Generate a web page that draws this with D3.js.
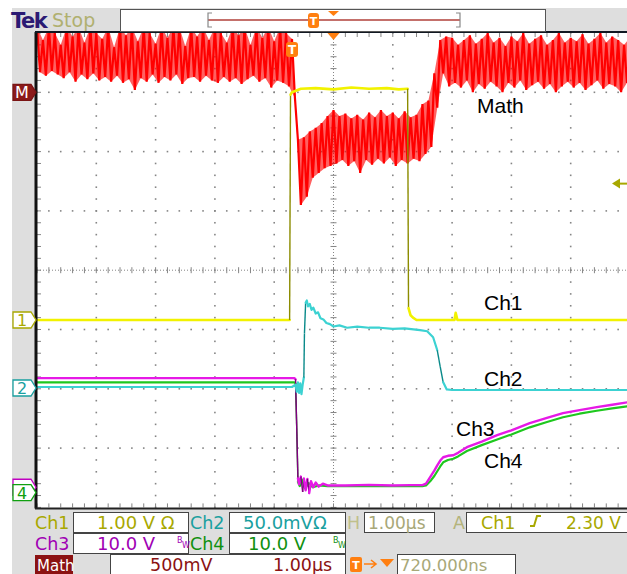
<!DOCTYPE html>
<html>
<head>
<meta charset="utf-8">
<script src="https://cdn.jsdelivr.net/npm/d3@7"></script>
<style>
  body { margin: 0; background: #fff; }
  svg { display: block; }
</style>
</head>
<body>
<script>
// ---- data (time in us from left edge of graticule) ----
const ch1T = [0, 4.26, 4.275, 4.30, 4.45, 4.7, 5.0, 5.3, 5.6, 5.9, 6.1, 6.25, 6.265, 6.30, 6.34, 6.40, 7.04, 7.06, 7.09, 10];
const ch1V = [0.0, 0.0, 3.80, 3.84, 3.90, 3.91, 3.89, 3.92, 3.90, 3.91, 3.89, 3.90, 0.20, 0.08, 0.04, 0.0, 0.0, 0.12, 0.0, 0.0];

const ch2T = [0, 4.30, 4.36, 4.38, 4.40, 4.42, 4.44, 4.46, 4.48, 4.50, 4.51, 4.53, 4.55, 4.57, 4.60, 4.63, 4.66, 4.70, 4.74, 4.78, 4.83, 4.88, 4.94, 5.0, 5.1, 5.23, 5.4, 5.6, 5.78, 6.0, 6.2, 6.46, 6.58, 6.68, 6.75, 6.80, 6.85, 6.91, 7.0, 10];
const ch2V = [0, 0, 2, -4, 4, -5, 3, -6, 2, 8, 45, 71, 73, 68, 70, 65, 67, 62, 63, 58, 57, 54, 53, 51, 52, 50, 51, 50, 50, 49, 49.5, 48, 47, 42, 31, 17, 4, -2, -2.5, -2.5];

const ch3T = [0, 4.34, 4.36, 4.38, 4.40, 4.42, 4.45, 4.48, 4.50, 4.53, 4.56, 4.59, 4.62, 4.66, 4.70, 4.75, 4.82, 4.9, 5.2, 5.6, 6.0, 6.3, 6.50, 6.56, 6.63, 6.70, 6.75, 6.80, 6.85, 6.93, 7.02, 7.10, 7.25, 7.5, 7.76, 8.0, 8.31, 8.6, 8.87, 9.15, 9.44, 9.7, 10];
const ch3V = [18.4, 18.4, 18.2, 10.0, 1.5, 0.5, 1.8, -0.8, 1.5, -0.5, 1.4, -1.0, 1.0, 0.0, 0.8, 0.1, 0.6, 0.3, 0.3, 0.4, 0.3, 0.35, 0.35, 0.6, 1.7, 2.8, 3.7, 4.5, 5.06, 5.3, 5.4, 5.8, 6.75, 7.7, 8.77, 9.6, 10.8, 11.7, 12.5, 13.0, 13.5, 13.9, 14.4];

const ch4T = [0, 4.34, 4.36, 4.38, 4.40, 4.43, 4.47, 4.52, 4.58, 4.65, 4.75, 4.9, 5.5, 6.0, 6.50, 6.56, 6.63, 6.70, 6.75, 6.80, 6.85, 6.93, 7.02, 7.10, 7.25, 7.5, 7.76, 8.0, 8.31, 8.6, 8.87, 9.15, 9.44, 9.7, 10];
const ch4V = [18.6, 18.6, 18.4, 11.0, 1.8, 1.1, 2.2, 0.7, 1.6, 0.9, 1.2, 1.1, 1.1, 1.1, 1.1, 1.2, 1.9, 2.8, 3.6, 4.4, 5.1, 5.5, 5.7, 6.1, 7.0, 8.0, 8.95, 9.8, 11.0, 11.9, 12.7, 13.3, 13.8, 14.2, 14.6];

// math trace: top / bottom of each ripple spike, one pair every 0.1 us
const mathStep = 0.1;
const mathHi = [0.55, 0.44, 0.55, 0.50, 0.40, 0.55, 0.47, 0.55, 0.42, 0.55, 0.50, 0.45, 0.55, 0.38, 0.55, 0.48, 0.55, 0.43, 0.55, 0.50, 0.41, 0.55, 0.46, 0.55, 0.55, 0.39, 0.55, 0.47, 0.55, 0.44, 0.55, 0.50, 0.42, 0.55, 0.48, 0.55, 0.40, 0.55, 0.46, 0.55, 0.43, 0.55,
  0.50, 0.45,
  -0.40, -0.38, -0.33, -0.30, -0.26, -0.20, -0.15, -0.20, -0.18, -0.22, -0.19, -0.23, -0.17, -0.21, -0.15, -0.20, -0.17, -0.22, -0.16, -0.21, -0.19, -0.10,
  -0.07, 0.16, 0.44, 0.47,
  0.46, 0.40, 0.44, 0.48, 0.41, 0.45, 0.50, 0.42, 0.46, 0.39, 0.47, 0.43, 0.50, 0.41, 0.45, 0.48, 0.40, 0.44, 0.50, 0.42, 0.46, 0.43, 0.49, 0.41, 0.45, 0.50, 0.42, 0.47, 0.44, 0.40, 0.46];
const mathLo = [0.17, 0.14, 0.18, 0.15, 0.12, 0.17, 0.09, 0.15, 0.11, 0.16, 0.10, 0.13, 0.09, 0.14, 0.08, 0.11, 0.02, 0.12, 0.09, 0.15, 0.08, 0.13, 0.10, 0.15, 0.07, 0.12, 0.13, 0.09, 0.14, 0.10, 0.08, 0.13, 0.09, 0.12, 0.07, 0.11, 0.14, 0.09, 0.12, 0.04, 0.10, 0.08,
  0.05, -0.05,
  -0.95, -0.88, -0.72, -0.68, -0.64, -0.62, -0.60, -0.57, -0.62, -0.58, -0.68, -0.57, -0.61, -0.56, -0.60, -0.55, -0.62, -0.57, -0.60, -0.56, -0.58, -0.52,
  -0.46, -0.13, 0.16, 0.05,
  0.08, 0.04, 0.10, 0.00, 0.07, 0.03, 0.09, 0.05, 0.00, 0.08, 0.04, 0.10, 0.02, 0.06, 0.09, 0.03, 0.07, 0.00, 0.05, 0.09, 0.04, 0.08, 0.02, 0.06, 0.10, 0.03, 0.07, 0.05, 0.00, 0.08, 0.06];

// ---- layout ----
const w = 627;
const h = 574;
const plotL = 37;
const plotT = 33;
const div = 59.3;
const plotR = plotL + 10 * div;
const plotB = plotT + 8 * div;

const svg = d3.select("body").append("svg").attr("width", w).attr("height", h);

const x = d3.scaleLinear().domain([0, 10]).range([plotL, plotR]);
const yDiv = d3.scaleLinear().domain([4, -4]).range([plotT, plotB]);

// channel vertical settings (position in divisions, units per division)
const ch1 = { pos: -0.84, vdiv: 1 };
const ch2 = { pos: -1.97, vdiv: 50 };
const ch3 = { pos: -3.66, vdiv: 10 };
const ch4 = { pos: -3.75, vdiv: 10 };
const mth = { pos: 3.0, vdiv: 0.5 };
const yOf = (c) => (v) => yDiv(c.pos + v / c.vdiv);

// ---- frame / grey panels ----
const grey = "#dedede";
svg.append("rect").attr("x", 12).attr("y", 8).attr("width", w - 12).attr("height", plotT - 8).attr("fill", grey);
svg.append("rect").attr("x", 12).attr("y", 8).attr("width", plotL - 12).attr("height", h - 8).attr("fill", grey);
svg.append("rect").attr("x", 12).attr("y", plotB + 1).attr("width", w - 12).attr("height", h - plotB).attr("fill", grey);
svg.append("rect").attr("x", plotL).attr("y", plotT).attr("width", w - plotL).attr("height", plotB - plotT).attr("fill", "#fff");

// ---- graticule ----
const grid = svg.append("g");
const minor = d3.range(0, 50.01, 1).map((d) => d / 5);
const minorY = d3.range(0, 40.01, 1).map((d) => d / 5 - 4);
const dotCol = "#858585";

[1, 2, 3, 4, 6, 7, 8, 9].forEach((k) => {
  minorY.forEach((v) => {
    grid.append("rect").attr("x", x(k) - 0.8).attr("y", yDiv(v) - 0.8).attr("width", 1.6).attr("height", 1.6).attr("fill", dotCol);
  });
});
[-3, -2, -1, 1, 2, 3].forEach((k) => {
  minor.forEach((t) => {
    grid.append("rect").attr("x", x(t) - 0.8).attr("y", yDiv(k) - 0.8).attr("width", 1.6).attr("height", 1.6).attr("fill", dotCol);
  });
});
// centre lines with ticks
grid.append("line").attr("x1", x(5)).attr("x2", x(5)).attr("y1", plotT).attr("y2", plotB)
  .attr("stroke", dotCol).attr("stroke-width", 1).attr("stroke-dasharray", "1,2");
grid.append("line").attr("x1", plotL).attr("x2", plotR).attr("y1", yDiv(0)).attr("y2", yDiv(0))
  .attr("stroke", dotCol).attr("stroke-width", 1).attr("stroke-dasharray", "1,2");
minor.forEach((t) => {
  grid.append("line").attr("x1", x(t)).attr("x2", x(t)).attr("y1", yDiv(0) - 3).attr("y2", yDiv(0) + 3).attr("stroke", dotCol);
  grid.append("line").attr("x1", x(t)).attr("x2", x(t)).attr("y1", plotT).attr("y2", plotT + 4).attr("stroke", dotCol);
  grid.append("line").attr("x1", x(t)).attr("x2", x(t)).attr("y1", plotB - 4).attr("y2", plotB).attr("stroke", dotCol);
});
minorY.forEach((v) => {
  grid.append("line").attr("x1", x(5) - 3).attr("x2", x(5) + 3).attr("y1", yDiv(v)).attr("y2", yDiv(v)).attr("stroke", dotCol);
  grid.append("line").attr("x1", plotL).attr("x2", plotL + 4).attr("y1", yDiv(v)).attr("y2", yDiv(v)).attr("stroke", dotCol);
});

// ---- traces ----
svg.append("clipPath").attr("id", "plotClip").append("rect")
  .attr("x", plotL).attr("y", plotT).attr("width", w - plotL).attr("height", plotB - plotT);
const traces = svg.append("g").attr("clip-path", "url(#plotClip)");

const drawTrace = (T, V, yf, color, steepColor, width) => {
  const pts = T.map((t, i) => [x(t), yf(V[i])]);
  const g = traces.append("g");
  let run = [pts[0]];
  const flush = () => {
    if (run.length > 1) {
      g.append("path").attr("d", d3.line()(run)).attr("fill", "none")
        .attr("stroke", color).attr("stroke-width", width)
        .attr("stroke-linejoin", "round").attr("stroke-linecap", "round");
    }
  };
  for (let i = 1; i < pts.length; i++) {
    const a = pts[i - 1];
    const b = pts[i];
    const dy = Math.abs(b[1] - a[1]);
    const steep = dy > 12 && dy > 5 * Math.abs(b[0] - a[0]);
    if (steep) {
      flush();
      g.append("line").attr("x1", a[0]).attr("y1", a[1]).attr("x2", b[0]).attr("y2", b[1])
        .attr("stroke", steepColor).attr("stroke-width", 1.4);
      run = [b];
    } else {
      run.push(b);
    }
  }
  flush();
};

drawTrace(ch4T, ch4V, yOf(ch4), "#1ec81e", "#0a7a0a", 2.2);
drawTrace(ch3T, ch3V, yOf(ch3), "#e619e6", "#800080", 2.4);
drawTrace(ch2T, ch2V, yOf(ch2), "#3cd2d2", "#0a8a8a", 2.2);

// math: band between spike tops and bottoms, plus the zig-zag of the spikes
const yM = yOf(mth);
const half = mathStep / 2;
const mathIdx = d3.range(mathHi.length);
traces.append("path")
  .attr("d", d3.area()
    .x0((i) => x(i * mathStep))
    .x1((i) => x(i * mathStep + half))
    .y0((i) => yM(mathHi[i]))
    .y1((i) => yM(mathLo[i]))(mathIdx))
  .attr("fill", "#ff0000").attr("fill-opacity", 0.62);
const mathPts = [];
mathHi.forEach((v, i) => {
  mathPts.push([x(i * mathStep), yM(v)]);
  mathPts.push([x(i * mathStep + half), yM(mathLo[i])]);
});
traces.append("path").attr("d", d3.line()(mathPts)).attr("fill", "none")
  .attr("stroke", "#ff0000").attr("stroke-width", 2.2).attr("stroke-linejoin", "miter");

drawTrace(ch1T, ch1V, yOf(ch1), "#f2f200", "#8c8c00", 2.6);

// ---- frame lines ----
svg.append("line").attr("x1", plotL - 1).attr("x2", plotL - 1).attr("y1", plotT - 1).attr("y2", plotB + 1).attr("stroke", "#111").attr("stroke-width", 3);
svg.append("line").attr("x1", plotL - 2).attr("x2", w).attr("y1", plotT - 1).attr("y2", plotT - 1).attr("stroke", "#111822").attr("stroke-width", 2);
svg.append("line").attr("x1", plotL - 2).attr("x2", w).attr("y1", plotB + 1).attr("y2", plotB + 1).attr("stroke", "#222").attr("stroke-width", 2);

// ---- trace labels ----
const labels = [
  { text: "Math", x: 477, y: 113 },
  { text: "Ch1", x: 484, y: 310 },
  { text: "Ch2", x: 484, y: 386 },
  { text: "Ch3", x: 456, y: 436 },
  { text: "Ch4", x: 484, y: 468 },
];
svg.append("g").selectAll("text").data(labels).enter().append("text")
  .attr("x", (d) => d.x).attr("y", (d) => d.y).text((d) => d.text)
  .attr("font-family", "Liberation Sans, Arial, sans-serif").attr("font-size", 21).attr("fill", "#000");

// ---- channel markers on left ----
const marker = (yy, label, stroke, fill, txt) => {
  const g = svg.append("g");
  g.append("path").attr("d", `M13,${yy - 8}H31L36,${yy}L31,${yy + 8}H13Z`)
    .attr("fill", fill).attr("stroke", stroke).attr("stroke-width", 1.3);
  g.append("text").attr("x", 22).attr("y", yy + 6).attr("text-anchor", "middle").text(label)
    .attr("font-family", "DejaVu Sans, sans-serif").attr("font-size", 16).attr("fill", txt);
};
marker(yDiv(mth.pos), "M", "#7a1414", "#8b1a1a", "#fff");
marker(yDiv(ch1.pos), "1", "#a8a800", "#fff", "#a8a800");
marker(yDiv(ch2.pos) + 1, "2", "#1aa0a0", "#fff", "#1aa0a0");
marker(yDiv(ch3.pos), "", "#c000c0", "#fff", "#c000c0");
marker(yDiv(ch4.pos), "4", "#10a010", "#fff", "#10a010");

// trigger position marker and centre marker
svg.append("rect").attr("x", 286).attr("y", 42).attr("width", 12).attr("height", 15).attr("rx", 3).attr("fill", "#ff7f10");
svg.append("text").attr("x", 292).attr("y", 54).attr("text-anchor", "middle").text("T")
  .attr("font-family", "DejaVu Sans, sans-serif").attr("font-weight", "bold").attr("font-size", 12).attr("fill", "#fff");
svg.append("path").attr("d", `M${x(5) - 6},${plotT}L${x(5) + 6},${plotT}L${x(5)},${plotT + 7}Z`).attr("fill", "#ff7f10");
// trigger level arrow (ch1 2.30 V)
const yTrig = yOf(ch1)(2.3);
svg.append("path").attr("d", `M612,${yTrig}L620,${yTrig - 5}L620,${yTrig + 5}Z`).attr("fill", "#a8a800");
svg.append("line").attr("x1", 619).attr("x2", 627).attr("y1", yTrig).attr("y2", yTrig).attr("stroke", "#a8a800").attr("stroke-width", 2);

// ---- top status bar ----
svg.append("text").attr("x", 11).attr("y", 28).text("Tek")
  .attr("font-family", "DejaVu Sans, sans-serif").attr("font-weight", "bold").attr("font-size", 21)
  .attr("letter-spacing", -1.5).attr("fill", "#2b1a73");
svg.append("text").attr("x", 52).attr("y", 27).text("Stop")
  .attr("font-family", "DejaVu Sans, sans-serif").attr("font-size", 19).attr("fill", "#b0b070");
svg.append("rect").attr("x", 120.5).attr("y", 9.5).attr("width", 425).attr("height", 22).attr("fill", "#fff").attr("stroke", "#555").attr("stroke-width", 1);
svg.append("line").attr("x1", 208).attr("x2", 460).attr("y1", 20).attr("y2", 20).attr("stroke", "#b0403a").attr("stroke-width", 1.6);
svg.append("path").attr("d", "M212,13H208V27H212").attr("fill", "none").attr("stroke", "#888").attr("stroke-width", 1.2);
svg.append("path").attr("d", "M456,13H460V27H456").attr("fill", "none").attr("stroke", "#888").attr("stroke-width", 1.2);
svg.append("rect").attr("x", 308).attr("y", 13).attr("width", 11).attr("height", 15).attr("rx", 3).attr("fill", "#ff7f10");
svg.append("text").attr("x", 313.5).attr("y", 25).attr("text-anchor", "middle").text("T")
  .attr("font-family", "DejaVu Sans, sans-serif").attr("font-weight", "bold").attr("font-size", 11).attr("fill", "#fff");
svg.append("path").attr("d", "M328,11H339L333.5,16Z").attr("fill", "#ff7f10");

// ---- readouts ----
const ro = svg.append("g").attr("font-family", "DejaVu Sans, sans-serif").attr("font-size", 16);
const box = (x0, y0, ww, hh) => ro.append("rect").attr("x", x0 + 0.5).attr("y", y0 + 0.5).attr("width", ww).attr("height", hh)
  .attr("fill", "#fff").attr("stroke", "#444").attr("stroke-width", 1);
const txt = (x0, y0, s, col, size, anchor) => ro.append("text").attr("x", x0).attr("y", y0).text(s).attr("fill", col)
  .attr("font-size", size || 16).attr("text-anchor", anchor || "start");

box(73, 512, 115, 20);
box(229, 512, 116, 20);
box(364, 512, 70, 20);
box(466, 512, 170, 20);
box(73, 533, 115, 20);
box(229, 533, 116, 20);
box(110, 554, 235, 22);
box(397, 554, 118, 22);

txt(35, 529, "Ch1", "#a8a800", 17.5);
txt(97, 529, "1.00 V Ω", "#a8a800", 18);
txt(190, 529, "Ch2", "#1aa0a0", 17.5);
txt(243, 529, "50.0mVΩ", "#1aa0a0", 18);
txt(347, 529, "H", "#c0c08c", 17.5);
txt(368, 529, "1.00µs", "#a8a878", 17);
txt(453, 529, "A", "#b4b47c", 17.5);
txt(481, 529, "Ch1", "#a8a800", 17.5);
ro.append("path").attr("d", "M530,526H534L537,516H541").attr("fill", "none").attr("stroke", "#a8a800").attr("stroke-width", 2);
txt(566, 529, "2.30 V", "#a8a800", 17);

txt(35, 550, "Ch3", "#a000b4", 17.5);
txt(97, 550, "10.0 V", "#a000b4", 18);
txt(177, 543, "B", "#a000b4", 8);
txt(182, 548, "W", "#a000b4", 8);
txt(190, 550, "Ch4", "#109010", 17.5);
txt(248, 550, "10.0 V", "#109010", 18);
txt(333, 543, "B", "#109010", 8);
txt(338, 548, "W", "#109010", 8);

ro.append("rect").attr("x", 35).attr("y", 555).attr("width", 38).attr("height", 19).attr("fill", "#8b1212");
txt(37, 571, "Math", "#fff", 15);
txt(150, 571, "500mV", "#8b1212", 17.5);
txt(273, 571, "1.00µs", "#8b1212", 17.5);
ro.append("rect").attr("x", 350).attr("y", 557).attr("width", 12).attr("height", 15).attr("rx", 2).attr("fill", "#ff7f10");
txt(356, 569, "T", "#fff", 11, "middle").attr("font-weight", "bold");
ro.append("path").attr("d", "M364,564H375M371,560L376,564L371,568").attr("fill", "none").attr("stroke", "#ff7f10").attr("stroke-width", 1.6);
ro.append("path").attr("d", "M380,559H394L387,567Z").attr("fill", "#ff7f10");
txt(400, 571, "720.000ns", "#a8a878", 16.5);
</script>
</body>
</html>
